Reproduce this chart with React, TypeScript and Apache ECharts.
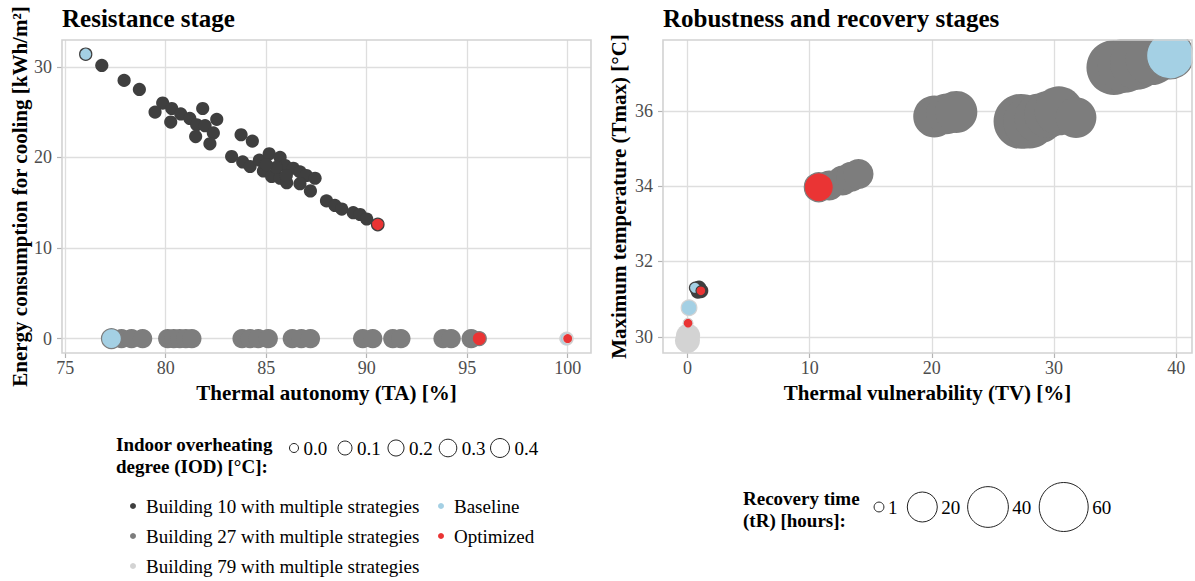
import React, { useEffect, useRef } from "react";
import * as echarts from "echarts";

// ---------- tick labels ----------
const taTicks = [75, 80, 85, 90, 95, 100];
const energyTicks = [0, 10, 20, 30];
const tvTicks = [0, 10, 20, 30, 40];
const tmaxTicks = [30, 32, 34, 36];

// ---------- Resistance stage: [TA %, cooling energy kWh/m², IOD °C] ----------
const b10Resistance: number[][] = [
  [76.82, 30.15, 0.07], [77.93, 28.5, 0.07], [78.69, 27.5, 0.07], [79.85, 26.0, 0.07],
  [79.47, 25.0, 0.07], [80.3, 25.4, 0.07], [80.25, 23.9, 0.07], [80.75, 24.8, 0.07],
  [81.2, 24.3, 0.07], [81.84, 25.4, 0.07], [81.54, 23.6, 0.07], [81.96, 23.5, 0.07],
  [82.54, 24.2, 0.07], [82.37, 22.7, 0.07], [81.49, 22.3, 0.07], [82.2, 21.5, 0.07],
  [83.75, 22.5, 0.07], [84.31, 21.8, 0.07], [83.28, 20.1, 0.07], [83.83, 19.5, 0.07],
  [84.2, 19.0, 0.07], [84.66, 19.7, 0.07], [85.15, 20.4, 0.07], [84.86, 18.5, 0.07],
  [85.27, 17.9, 0.07], [85.69, 20.0, 0.07], [85.94, 19.1, 0.07], [85.69, 17.7, 0.07],
  [86.02, 17.2, 0.07], [86.35, 18.8, 0.07], [86.68, 18.4, 0.07], [87.0, 18.0, 0.07],
  [87.43, 17.7, 0.07], [86.68, 17.1, 0.07], [87.2, 16.3, 0.07], [88.0, 15.2, 0.07],
  [88.42, 14.7, 0.07], [88.76, 14.3, 0.07], [89.33, 13.9, 0.07], [89.67, 13.7, 0.07],
  [90.0, 13.2, 0.07], [85.5, 18.9, 0.07], [86.0, 18.0, 0.07], [85.0, 19.2, 0.07],
];
const b27TA = [77.8, 78.3, 78.85, 80.1, 80.4, 80.7, 81.0, 81.3, 83.8, 84.2, 84.6, 85.1,
  86.3, 86.75, 87.2, 89.8, 90.3, 91.3, 91.7, 93.8, 94.2, 95.2];
const b27Energy = 0;
const b27IOD = 0.43;
const b79Resistance: number[][] = [[99.9, 0, 0.06]];
// [TA, energy, IOD, building]
const baselineResistance: number[][] = [[76.02, 31.4, 0.04, 10], [77.3, 0, 0.48, 27], [99.95, 0, 0.06, 79]];
const optimizedResistance: number[][] = [[90.55, 12.6, 0.05, 10], [95.6, 0, 0.1, 27], [100, 0, 0.005, 79]];

// ---------- Robustness & recovery: [TV %, Tmax °C, tR hours] ----------
const b27Recovery: number[][] = [
  [11.6, 34.02, 20], [12.7, 34.15, 20], [13.4, 34.25, 20], [14.0, 34.32, 20],
  [20.2, 35.85, 43], [21.2, 35.92, 40], [22.0, 35.97, 43],
  [27.3, 35.72, 77], [28.0, 35.7, 70], [28.8, 35.8, 62], [29.5, 35.9, 55], [30.4, 36.0, 60], [31.8, 35.82, 40],
  [34.9, 37.15, 77], [35.8, 37.2, 75], [36.8, 37.28, 75], [38.0, 37.38, 70],
];
const b10Recovery: number[][] = [[0.8, 31.27, 3.5], [0.95, 31.3, 3.2], [1.1, 31.22, 3.5], [0.85, 31.2, 3]];
const b79Recovery: number[][] = [[0, 29.9, 13], [0.05, 30.03, 12]];
// [TV, Tmax, tR, building]
const baselineRecovery: number[][] = [[0.62, 31.3, 1.5, 10], [39.5, 37.47, 55, 27], [0.13, 30.77, 4, 79]];
const optimizedRecovery: number[][] = [[1.1, 31.22, 1, 10], [10.75, 33.97, 18.5, 27], [0.05, 30.36, 1, 79]];

// ---------- legends ----------
const iodLegend = [0.0, 0.1, 0.2, 0.3, 0.4];
const trLegend = [1, 20, 40, 60];
const groupNames = [
  "Building 10 with multiple strategies",
  "Building 27 with multiple strategies",
  "Building 79 with multiple strategies",
  "Baseline",
  "Optimized",
];

// ---------- styles ----------
const FONT = "Liberation Serif, Times New Roman, serif";
const C10 = "#3f3f3f";
const C27 = "#7d7d7d";
const C79 = "#d3d3d3";
const CBASE = "#a4d0e4";
const COPT = "#ea3434";
const buildingColor: Record<number, string> = { 10: C10, 27: C27, 79: C79 };

const iodSize = (v: number) => 9 + 15.8 * Math.sqrt(v);
const trSize = (v: number) => 4.06 + 5.8 * Math.sqrt(v);

function axisCommon(ticks: number[], isX: boolean) {
  return {
    type: "value",
    axisLine: { show: false, onZero: false },
    axisTick: { show: true, length: 5, lineStyle: { color: "#b3b3b3", width: 1.2 }, customValues: ticks },
    axisLabel: {
      customValues: ticks,
      color: "#4d4d4d",
      fontSize: 18,
      fontFamily: "serif",
      margin: isX ? 6 : 10,
      formatter: (v: number) => `{t|${v}}`,
      rich: { t: { fontFamily: "Liberation Serif", fontSize: 18, color: "#4d4d4d" } },
    },
    splitLine: { show: true, lineStyle: { color: "#dedede", width: 1.3 } },
  };
}

function buildOption() {
  const gridL = { left: 62, top: 40, width: 529, height: 313 };
  const gridR = { left: 663, top: 40, width: 529, height: 313 };

  const series: any[] = [];
  const addSeries = (
    data: any[],
    ax: number,
    color: string,
    sizeFn: (v: number) => number,
    z: number,
    borderWidth = 0
  ) => {
    series.push({
      type: "scatter",
      xAxisIndex: ax,
      yAxisIndex: ax,
      data,
      z,
      symbol: "circle",
      symbolSize: (val: number[]) => sizeFn(val[2]),
      itemStyle: { color, borderColor: color, borderWidth, opacity: 1 },
      emphasis: { disabled: true },
    });
  };
  const withBorder = (rows: number[][]) =>
    rows.map((r) => ({ value: [r[0], r[1], r[2]], itemStyle: { borderColor: buildingColor[r[3]], borderWidth: 1.2 } }));

  // left panel
  addSeries(b10Resistance, 0, C10, iodSize, 2);
  addSeries(b27TA.map((t) => [t, b27Energy, b27IOD]), 0, C27, iodSize, 3);
  addSeries(b79Resistance, 0, C79, iodSize, 4);
  addSeries(withBorder(baselineResistance), 0, CBASE, iodSize, 5, 1.2);
  addSeries(withBorder(optimizedResistance), 0, COPT, iodSize, 6, 1.2);
  // right panel
  addSeries(b27Recovery, 1, C27, trSize, 2);
  addSeries(b10Recovery, 1, C10, trSize, 3);
  addSeries(b79Recovery, 1, C79, trSize, 4);
  addSeries(withBorder(baselineRecovery), 1, CBASE, trSize, 5, 1.2);
  addSeries(withBorder(optimizedRecovery), 1, COPT, trSize, 6, 1.2);

  const txt = (x: number, y: number, text: string, size: number, bold: boolean, extra: any = {}) => ({
    type: "text",
    x,
    y,
    z: 20,
    rotation: extra.rotation || 0,
    style: {
      text,
      fill: extra.fill || "#000",
      font: `${bold ? "bold " : ""}${size}px ${FONT}`,
      textAlign: extra.align || "left",
      textVerticalAlign: "middle",
    },
  });

  const graphic: any[] = [
    // clip overflow of large bubbles outside right panel
    { type: "rect", z: 15, shape: { x: 640, y: 0, width: 555, height: 39.3 }, style: { fill: "#fff" } },
    { type: "rect", z: 15, shape: { x: 1192.7, y: 0, width: 10, height: 420 }, style: { fill: "#fff" } },
    // panel borders
    { type: "rect", z: 16, shape: { x: gridL.left, y: gridL.top, width: gridL.width, height: gridL.height }, style: { fill: "none", stroke: "#d2d2d2", lineWidth: 1.6 } },
    { type: "rect", z: 16, shape: { x: gridR.left, y: gridR.top, width: gridR.width, height: gridR.height }, style: { fill: "none", stroke: "#d2d2d2", lineWidth: 1.6 } },
    // titles
    txt(62, 18, "Resistance stage", 25, true),
    txt(663, 18, "Robustness and recovery stages", 25, true),
    // axis titles
    txt(326.5, 393, "Thermal autonomy (TA) [%]", 21, true, { align: "center" }),
    txt(927.5, 393, "Thermal vulnerability (TV) [%]", 21, true, { align: "center" }),
    txt(20, 196.5, "Energy consumption for cooling [kWh/m²]", 21, true, { align: "center", rotation: Math.PI / 2 }),
    txt(619, 196.5, "Maximum temperature (Tmax) [°C]", 21, true, { align: "center", rotation: Math.PI / 2 }),
    // IOD legend
    txt(116, 444, "Indoor overheating", 19, true),
    txt(116, 466, "degree (IOD) [°C]:", 19, true),
  ];

  const iodX = [294, 345, 396, 448, 500];
  iodLegend.forEach((v, i) => {
    const r = iodSize(v) / 2;
    graphic.push({ type: "circle", z: 20, shape: { cx: iodX[i], cy: 448, r }, style: { fill: "none", stroke: "#222", lineWidth: 1 } });
    graphic.push(txt(iodX[i] + r + 5, 448, v.toFixed(1), 19, false));
  });

  // colour legend
  const bulletPos = [
    [133, 506], [133, 536], [133, 566], [441, 506], [441, 536],
  ];
  const bulletColor = [C10, C27, C79, CBASE, COPT];
  groupNames.forEach((name, i) => {
    const [bx, by] = bulletPos[i];
    graphic.push({ type: "circle", z: 20, shape: { cx: bx, cy: by, r: 3 }, style: { fill: bulletColor[i] } });
    graphic.push(txt(bx + 13, by, name, 19, false));
  });

  // recovery legend
  graphic.push(txt(743, 498, "Recovery time", 19, true));
  graphic.push(txt(743, 520, "(tR) [hours]:", 19, true));
  const trX = [879, 922.3, 988, 1063.7];
  trLegend.forEach((v, i) => {
    const r = trSize(v) / 2;
    graphic.push({ type: "circle", z: 20, shape: { cx: trX[i], cy: 507, r }, style: { fill: "none", stroke: "#222", lineWidth: 1 } });
    graphic.push(txt(trX[i] + r + 4, 507, String(v), 19, false));
  });

  return {
    animation: false,
    backgroundColor: "#fff",
    textStyle: { fontFamily: FONT },
    grid: [gridL, gridR],
    xAxis: [
      { ...axisCommon(taTicks, true), gridIndex: 0, min: 74.84, max: 101.16 },
      { ...axisCommon(tvTicks, true), gridIndex: 1, min: -2.0, max: 41.29 },
    ],
    yAxis: [
      { ...axisCommon(energyTicks, false), gridIndex: 0, min: -1.59, max: 32.96 },
      { ...axisCommon(tmaxTicks, false), gridIndex: 1, min: 29.57, max: 37.88 },
    ],
    series,
    graphic,
  };
}

export default function App() {
  const ref = useRef<HTMLDivElement>(null);
  useEffect(() => {
    if (!ref.current) return;
    const chart = echarts.init(ref.current, null, { renderer: "svg" });
    chart.setOption(buildOption() as any);
    return () => chart.dispose();
  }, []);
  return (
    <div
      ref={ref}
      style={{ position: "absolute", left: 0, top: 0, width: 1195, height: 581, background: "#fff" }}
    />
  );
}
